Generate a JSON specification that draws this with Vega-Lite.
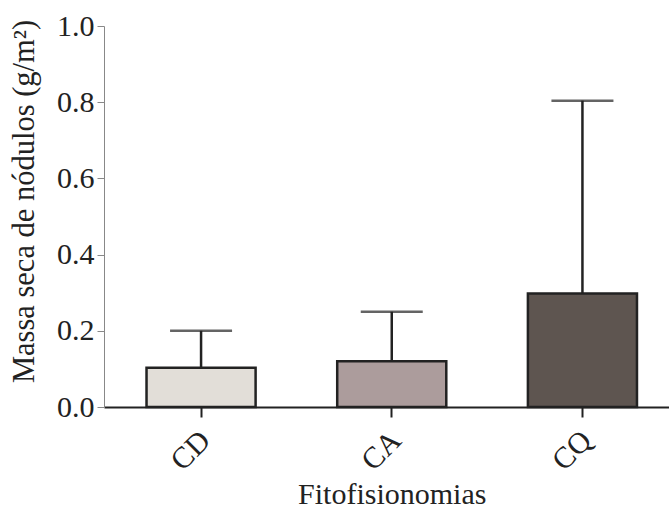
{
  "$schema": "https://vega.github.io/schema/vega-lite/v6.json",
  "autosize": {"type": "none"},
  "padding": {"left": 104, "top": 26, "right": 0, "bottom": 103},
  "width": 565,
  "height": 381,
  "background": "white",
  "config": {
    "view": {"stroke": null},
    "font": "Liberation Serif",
    "axis": {"grid": false, "labelFont": "Liberation Serif", "titleFont": "Liberation Serif", "labelColor": "#222", "titleColor": "#222", "titleFontWeight": "normal"}
  },
  "data": {
    "values": [
      {"cat": "CD", "mean": 0.103, "upper": 0.200},
      {"cat": "CA", "mean": 0.120, "upper": 0.250},
      {"cat": "CQ", "mean": 0.298, "upper": 0.804}
    ]
  },
  "encoding": {
    "x": {
      "field": "cat", "type": "nominal", "sort": null,
      "scale": {"type": "band", "range": [0, 575.5], "paddingInner": 0.428, "paddingOuter": 0.223},
      "axis": {
        "title": "Fitofisionomias", "titleFontSize": 30, "titlePadding": 4,
        "labelAngle": -45, "labelFontSize": 30, "labelPadding": 8, "labelOffset": -6,
        "domainColor": "#222", "domainWidth": 2, "tickColor": "#222", "tickWidth": 2, "tickSize": 10
      }
    }
  },
  "layer": [
    {
      "mark": {"type": "rule", "stroke": "#222", "strokeWidth": 2.5},
      "encoding": {
        "y": {"field": "mean", "type": "quantitative"},
        "y2": {"field": "upper"}
      }
    },
    {
      "mark": {"type": "tick", "color": "#222", "size": 62, "thickness": 2.5},
      "encoding": {
        "y": {"field": "upper", "type": "quantitative"}
      }
    },
    {
      "mark": {"type": "bar", "stroke": "#222", "strokeWidth": 2.5},
      "encoding": {
        "y": {
          "field": "mean", "type": "quantitative",
          "scale": {"domain": [0, 1], "nice": false},
          "axis": {
            "title": "Massa seca de nódulos (g/m²)", "titleFontSize": 30.5, "titlePadding": 17, "titleY": 175,
            "values": [0, 0.2, 0.4, 0.6, 0.8, 1.0], "format": ".1f",
            "labelFontSize": 30, "labelPadding": 3,
            "domainColor": "#888", "domainWidth": 1, "tickColor": "#888", "tickWidth": 1, "tickSize": 7
          }
        },
        "fill": {
          "field": "cat", "type": "nominal", "sort": null, "legend": null,
          "scale": {"domain": ["CD", "CA", "CQ"], "range": ["#e2ded8", "#ac9c9c", "#5e5550"]}
        }
      }
    }
  ]
}
